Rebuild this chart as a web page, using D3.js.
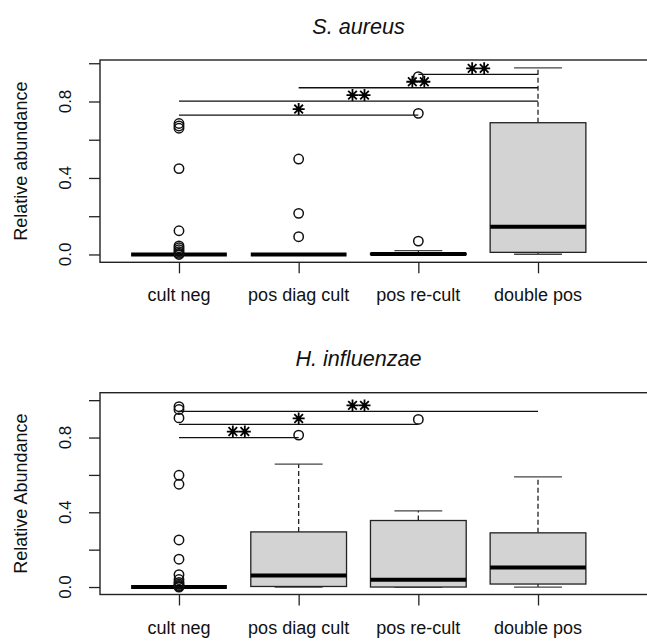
<!DOCTYPE html>
<html>
<head>
<meta charset="utf-8">
<script src="https://cdn.jsdelivr.net/npm/d3@7"></script>
<style>
  body { margin: 0; background: #fff; }
  text { font-family: "Liberation Sans", Arial, sans-serif; fill: #111; }
</style>
</head>
<body>
<div class="chart"></div>
<script>
var svgWidth = 647;
var svgHeight = 641;

// categories on the x axis
var categories = ["cult neg", "pos diag cult", "pos re-cult", "double pos"];

// y ticks, only some of them get a label (R drops the crowded ones)
var yTicks = [0, 0.2, 0.4, 0.6, 0.8, 1.0];
var yTickLabels = ["0.0", "", "0.4", "", "0.8", ""];

// box stats per category: [lower whisker, q1, median, q3, upper whisker]
var saStats = [
  [0, 0, 0, 0, 0],
  [0, 0, 0, 0, 0],
  [0, 0, 0.002, 0.005, 0.02],
  [0.001, 0.011, 0.145, 0.689, 0.976]
];
var saOutliers = [
  [0.685, 0.672, 0.66, 0.449, 0.124, 0.045, 0.035, 0.025, 0.015, 0.006, 0],
  [0.499, 0.215, 0.093],
  [0.93, 0.738, 0.07],
  []
];
// significance bars: from group, to group, height, stars
var saSig = [
  { from: 0, to: 2, y: 0.729, stars: 1 },
  { from: 0, to: 3, y: 0.802, stars: 2 },
  { from: 1, to: 3, y: 0.872, stars: 2 },
  { from: 2, to: 3, y: 0.942, stars: 2 }
];

var hiStats = [
  [0, 0, 0, 0, 0],
  [0, 0.003, 0.062, 0.295, 0.658],
  [0, 0, 0.039, 0.356, 0.408],
  [0, 0.016, 0.105, 0.29, 0.59]
];
var hiOutliers = [
  [0.965, 0.95, 0.905, 0.598, 0.55, 0.252, 0.149, 0.066, 0.04, 0.025, 0.015, 0.008, 0.003, 0],
  [0.813],
  [0.897],
  []
];
var hiSig = [
  { from: 0, to: 3, y: 0.94, stars: 2 },
  { from: 0, to: 2, y: 0.87, stars: 1 },
  { from: 0, to: 1, y: 0.80, stars: 2 }
];

var panels = [
  { title: "S. aureus", ylab: "Relative abundance", top: 60, bottom: 262.3,
    ydomain: [-0.041, 1.017], stats: saStats, outliers: saOutliers, sig: saSig },
  { title: "H. influenzae", ylab: "Relative Abundance", top: 392.7, bottom: 594.5,
    ydomain: [-0.04, 1.04], stats: hiStats, outliers: hiOutliers, sig: hiSig }
];

var plotLeft = 100;
var plotRight = 617;

var svg = d3.select(".chart")
  .append("svg")
  .attr("width", svgWidth)
  .attr("height", svgHeight);

svg.append("rect")
  .attr("width", svgWidth)
  .attr("height", svgHeight)
  .attr("fill", "#fff");

var xScale = d3.scalePoint()
  .domain(categories)
  .range([plotLeft, plotRight])
  .padding(0.66);

var boxW = xScale.step() * 0.8;

function starPath(cx, cy, r) {
  var d = r * 0.72;
  return "M" + (cx - r) + "," + cy + "H" + (cx + r) +
    "M" + cx + "," + (cy - r) + "V" + (cy + r) +
    "M" + (cx - d) + "," + (cy - d) + "L" + (cx + d) + "," + (cy + d) +
    "M" + (cx - d) + "," + (cy + d) + "L" + (cx + d) + "," + (cy - d);
}

function drawPanel(p) {
  var y = d3.scaleLinear().domain(p.ydomain).range([p.bottom, p.top]);
  var g = svg.append("g");

  // title
  g.append("text")
    .attr("x", (plotLeft + plotRight) / 2)
    .attr("y", p.top - 26.5)
    .attr("text-anchor", "middle")
    .style("font-size", "21.6px")
    .style("font-style", "italic")
    .text(p.title);

  // y axis
  var yAxis = g.append("g")
    .attr("transform", `translate(${plotLeft}, 0)`)
    .call(d3.axisLeft(y).tickValues(yTicks).tickSize(11).tickSizeOuter(0).tickFormat(""));
  yAxis.select(".domain").remove();
  yAxis.selectAll(".tick line").attr("stroke", "#222").attr("stroke-width", 1.3);

  g.selectAll(".ylab")
    .data(yTicks)
    .enter()
    .append("text")
    .attr("transform", d => `translate(71, ${y(d)}) rotate(-90)`)
    .attr("text-anchor", "middle")
    .style("font-size", "17px")
    .text((d, i) => yTickLabels[i]);

  g.append("text")
    .attr("transform", `translate(27, ${(p.top + p.bottom) / 2}) rotate(-90)`)
    .attr("text-anchor", "middle")
    .style("font-size", "18px")
    .text(p.ylab);

  // x axis
  var xAxis = g.append("g")
    .attr("transform", `translate(0, ${p.bottom})`)
    .call(d3.axisBottom(xScale).tickSize(11).tickSizeOuter(0).tickFormat(""));
  xAxis.select(".domain").remove();
  xAxis.selectAll(".tick line").attr("stroke", "#222").attr("stroke-width", 1.3);

  g.selectAll(".xlab")
    .data(categories)
    .enter()
    .append("text")
    .attr("x", d => xScale(d))
    .attr("y", p.bottom + 39)
    .attr("text-anchor", "middle")
    .style("font-size", "18px")
    .text(d => d);

  // plot frame, right side runs off the picture
  g.append("rect")
    .attr("x", plotLeft)
    .attr("y", p.top)
    .attr("width", 660 - plotLeft)
    .attr("height", p.bottom - p.top)
    .attr("fill", "none")
    .attr("stroke", "#222")
    .attr("stroke-width", 1.4);

  // boxes
  p.stats.forEach(function(s, i) {
    var cx = xScale(categories[i]);
    // whiskers
    g.append("line")
      .attr("x1", cx).attr("x2", cx)
      .attr("y1", y(s[3])).attr("y2", y(s[4]))
      .attr("stroke", "#222").attr("stroke-width", 1.3)
      .attr("stroke-dasharray", "5,3");
    g.append("line")
      .attr("x1", cx).attr("x2", cx)
      .attr("y1", y(s[1])).attr("y2", y(s[0]))
      .attr("stroke", "#222").attr("stroke-width", 1.3)
      .attr("stroke-dasharray", "5,3");
    // caps
    [s[0], s[4]].forEach(function(v) {
      g.append("line")
        .attr("x1", cx - boxW / 4).attr("x2", cx + boxW / 4)
        .attr("y1", y(v)).attr("y2", y(v))
        .attr("stroke", "#444").attr("stroke-width", 1.3);
    });
    // box
    g.append("rect")
      .attr("x", cx - boxW / 2)
      .attr("y", y(s[3]))
      .attr("width", boxW)
      .attr("height", y(s[1]) - y(s[3]))
      .attr("fill", "#d3d3d3")
      .attr("stroke", "#222")
      .attr("stroke-width", 1.3);
    // median
    g.append("line")
      .attr("x1", cx - boxW / 2).attr("x2", cx + boxW / 2)
      .attr("y1", y(s[2])).attr("y2", y(s[2]))
      .attr("stroke", "#000").attr("stroke-width", 4);
  });

  // outliers
  p.outliers.forEach(function(list, i) {
    g.selectAll(null)
      .data(list)
      .enter()
      .append("circle")
      .attr("cx", xScale(categories[i]))
      .attr("cy", d => y(d))
      .attr("r", 4.7)
      .attr("fill", "none")
      .attr("stroke", "#111")
      .attr("stroke-width", 1.5);
  });

  // significance bars and stars
  p.sig.forEach(function(s) {
    var x1 = xScale(categories[s.from]);
    var x2 = xScale(categories[s.to]);
    var yy = y(s.y);
    g.append("line")
      .attr("x1", x1).attr("x2", x2)
      .attr("y1", yy).attr("y2", yy)
      .attr("stroke", "#111").attr("stroke-width", 1.3);
    var mid = (x1 + x2) / 2;
    var offs = s.stars === 1 ? [0] : [-6, 6];
    offs.forEach(function(o) {
      g.append("path")
        .attr("d", starPath(mid + o, yy - 6, 6))
        .attr("stroke", "#000")
        .attr("stroke-width", 1.8)
        .attr("fill", "none");
    });
  });
}

panels.forEach(drawPanel);
</script>
</body>
</html>
